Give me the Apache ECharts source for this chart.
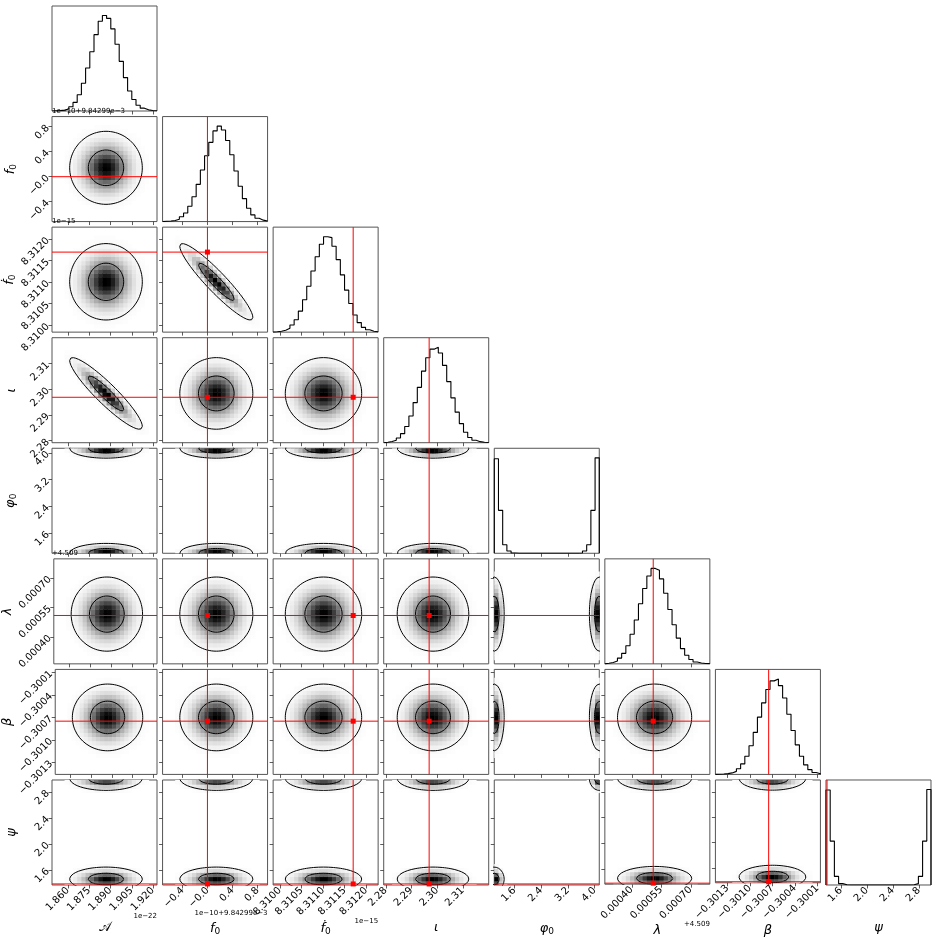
<!DOCTYPE html>
<html><head><meta charset="utf-8">
<script src="https://cdn.jsdelivr.net/npm/echarts@6/dist/echarts.min.js"></script>
<style>html,body{margin:0;padding:0;background:#fff}#c{width:937px;height:938px}</style>
</head><body><div id="c"></div>
<script>
// ================= DATA =================
const paramKeys   = ['A', 'f0', 'fdot0', 'iota', 'phi0', 'lambda', 'beta', 'psi'];
const paramLabels = ['{m|𝒜}', '{i|f}{s|0}', '{i|ḟ}{s|0}', '{i|ι}', '{i|φ}{s|0}', '{i|λ}', '{i|β}', '{i|ψ}'];
// axis ranges (in the offset/scaled units that the tick labels show)
const rangeMin = [1.8487, -0.72, 8.30984, 2.2792, 1.00, 0.000263, -0.30146, 1.369];
const rangeMax = [1.9228,  0.96, 8.31228, 2.3201, 4.14, 0.000797, -0.30006, 2.985];
const tickValues = [
  [1.860, 1.875, 1.890, 1.905, 1.920],
  [-0.4, 0.0, 0.4, 0.8],
  [8.3100, 8.3105, 8.3110, 8.3115, 8.3120],
  [2.28, 2.29, 2.30, 2.31],
  [1.6, 2.4, 3.2, 4.0],
  [0.00040, 0.00055, 0.00070],
  [-0.3013, -0.3010, -0.3007, -0.3004, -0.3001],
  [1.6, 2.0, 2.4, 2.8]
];
const tickText = [
  ['1.860', '1.875', '1.890', '1.905', '1.920'],
  ['\u22120.4', '\u22120.0', '0.4', '0.8'],
  ['8.3100', '8.3105', '8.3110', '8.3115', '8.3120'],
  ['2.28', '2.29', '2.30', '2.31'],
  ['1.6', '2.4', '3.2', '4.0'],
  ['0.00040', '0.00055', '0.00070'],
  ['\u22120.3013', '\u22120.3010', '\u22120.3007', '\u22120.3004', '\u22120.3001'],
  ['1.6', '2.0', '2.4', '2.8']
];
const offsetText = ['1e\u221222', '1e\u221210+9.84299e\u22123', '1e\u221215', '', '', '+4.509', '', ''];
const truthValues = [null, -0.002, 8.31170, 2.2969, null, 0.000509, -0.30075, 1.385];

// 1-D marginal histograms (25 bins across each axis range, relative counts)
const histA      = [0.2, 0.4, 0.9, 2, 4.5, 9, 17, 29, 45, 62, 80, 94, 100, 97, 86, 70, 52, 35, 21, 12, 6, 3, 1.2, 0.5, 0.2];
const histF0     = [0.3, 0.6, 1.2, 2.5, 5, 9, 16, 26, 39, 54, 69, 83, 95, 100, 96, 85, 70, 53, 37, 24, 14, 7, 3.5, 1.5, 0.6];
const histFdot0  = [0.4, 1, 2, 4, 7.5, 13, 22, 34, 48, 64, 79, 92, 100, 99, 90, 76, 60, 44, 30, 18, 10, 5, 2.5, 1, 0.4];
const histIota   = [0.5, 1.2, 2.6, 5, 9.5, 17, 28, 42, 58, 75, 89, 98, 100, 94, 81, 64, 47, 32, 20, 11, 5.5, 2.5, 1.1, 0.5, 0.2];
const histPhi0   = [99, 45, 9, 2.4, 0.3, 0, 0, 0, 0, 0, 0, 0, 0, 0, 0, 0, 0, 0, 0, 0, 0.3, 2.4, 9, 45, 100];
const histLambda = [0.6, 1.4, 3, 6, 11, 19, 31, 46, 63, 79, 92, 100, 98, 89, 74, 57, 41, 27, 16, 9, 4.5, 2, 0.9, 0.4, 0.2];
const histBeta   = [0.2, 0.4, 0.8, 1.6, 3.2, 6, 11, 19, 30, 44, 60, 75, 89, 98, 100, 93, 80, 63, 46, 31, 19, 10, 5, 2, 0.8];
const histPsi    = [99.5, 46, 9, 1.4, 0.2, 0, 0, 0, 0, 0, 0, 0, 0, 0, 0, 0, 0, 0, 0, 0, 0.2, 1.4, 9, 46, 100];
const histograms = [histA, histF0, histFdot0, histIota, histPhi0, histLambda, histBeta, histPsi];

// 2-D posterior shape: location of the two phase/polarisation modes, spread, correlations
const modeLow  = [1.8868, 0.14, 8.31101, 2.2984, 1.00, 0.000516, -0.30070, 1.46];
const modeHigh = [1.8868, 0.14, 8.31101, 2.2984, 4.14, 0.000516, -0.30070, 3.01];
const contourSpread = [0.0125, 0.285, 0.000433, 0.0068, 0.144, 0.000092, 0.000217, 0.09];
const densitySpread = [0.0095, 0.215, 0.000330, 0.0052, 0.11, 0.000070, 0.000165, 0.07];
const correlations = [['A', 'iota', -0.92], ['f0', 'fdot0', -0.93]];

// ================= LAYOUT / STYLE =================
const N = paramKeys.length;
const LEFT0 = 52, TOP0 = 6, STEP = 110.57, SIZE = 105;
const NB = 25; // histogram bins
const FRAME = '#555';
const RED = '#ff0000';
const xOffsetDrop = [32, 29, 37, 0, 0, 40, 0, 0];

function rho(a, b) {
  for (const c of correlations) {
    if ((c[0] === paramKeys[a] && c[1] === paramKeys[b]) || (c[0] === paramKeys[b] && c[1] === paramKeys[a])) return c[2];
  }
  return 0;
}
function labelFor(k) {
  return function (v) {
    const tv = tickValues[k];
    for (let i = 0; i < tv.length; i++) if (Math.abs(tv[i] - v) < 1e-9 * Math.max(1, Math.abs(v))) return tickText[k][i];
    return '';
  };
}
const richLabel = {
  m: { fontFamily: 'DejaVu Sans', fontSize: 13, fontStyle: 'normal' },
  i: { fontFamily: 'DejaVu Sans', fontSize: 13, fontStyle: 'italic' },
  s: { fontFamily: 'DejaVu Sans', fontSize: 9, verticalAlign: 'bottom', padding: [6, 0, 0, 0] }
};
// truth lines + marker drawn through the axes of grid g (own canvas layer)
function truthSeries(g, tx, ty, xmin, xmax, ymin, ymax) {
  const items = [];
  if (tx !== null) items.push([tx, ymin, tx, ymax, 0]);
  if (ty !== null) items.push([xmin, ty, xmax, ty, 0]);
  if (tx !== null && ty !== null) items.push([tx, ty, tx, ty, 1]);
  return {
    type: 'custom', xAxisIndex: g, yAxisIndex: g, data: items, animation: false, silent: true, zlevel: 1, z: 6, clip: false,
    renderItem: function (params, api) {
      const a = api.coord([api.value(0), api.value(1)]);
      const b = api.coord([api.value(2), api.value(3)]);
      if (api.value(4) === 1) {
        return { type: 'rect', shape: { x: a[0] - 2.5, y: a[1] - 2.5, width: 5, height: 5 }, style: { fill: RED, stroke: RED, lineWidth: 0 } };
      }
      return { type: 'line', shape: { x1: a[0], y1: a[1], x2: b[0], y2: b[1] }, style: { stroke: RED, lineWidth: 1, fill: RED } };
    }
  };
}

const grids = [], xAxes = [], yAxes = [], series = [], truthList = [], graphics = [];
let g = 0;
for (let i = 0; i < N; i++) {
  for (let j = 0; j <= i; j++) {
    const left = LEFT0 + j * STEP, top = TOP0 + i * STEP;
    grids.push({ left: left, top: top, width: SIZE, height: SIZE, show: true, borderColor: FRAME, borderWidth: 1, backgroundColor: 'transparent' });
    const bottomRow = (i === N - 1);
    xAxes.push({
      gridIndex: g, type: 'value', min: rangeMin[j], max: rangeMax[j],
      axisLine: { show: false, onZero: false }, splitLine: { show: false }, axisPointer: { show: false },
      axisTick: { show: true, inside: false, length: 3.5, lineStyle: { color: '#333', width: 0.8 }, customValues: tickValues[j] },
      axisLabel: { show: bottomRow, customValues: tickValues[j], rotate: 45, formatter: labelFor(j), fontFamily: 'DejaVu Sans', fontSize: 10, color: '#000', margin: 4 },
      name: bottomRow ? paramLabels[j] : '', nameLocation: 'middle', nameGap: 36,
      nameTextStyle: { color: '#000', rich: richLabel }
    });
    if (i === j) {
      const h = histograms[j];
      let hmax = 0; h.forEach(v => { if (v > hmax) hmax = v; });
      yAxes.push({ gridIndex: g, type: 'value', min: 0, max: hmax * 1.1, show: false, splitLine: { show: false }, axisLine: { onZero: false } });
      const w = (rangeMax[j] - rangeMin[j]) / NB;
      const pts = [[rangeMin[j], 0]];
      for (let k = 0; k < NB; k++) pts.push([rangeMin[j] + k * w, h[k]]);
      pts.push([rangeMax[j], h[NB - 1]]);
      pts.push([rangeMax[j], 0]);
      series.push({
        type: 'line', xAxisIndex: g, yAxisIndex: g, data: pts, step: 'end', symbol: 'none', animation: false,
        lineStyle: { color: '#000', width: 1.1 }, z: 3, clip: true
      });
      if (truthValues[j] !== null) truthList.push(truthSeries(g, truthValues[j], null, 0, 0, 0, hmax * 1.1));
    } else {
      const leftCol = (j === 0);
      yAxes.push({
        gridIndex: g, type: 'value', min: rangeMin[i], max: rangeMax[i],
        axisLine: { show: false, onZero: false }, splitLine: { show: false }, axisPointer: { show: false },
        axisTick: { show: true, inside: false, length: 3.5, lineStyle: { color: '#333', width: 0.8 }, customValues: tickValues[i] },
        axisLabel: { show: leftCol, customValues: tickValues[i], rotate: 45, formatter: labelFor(i), fontFamily: 'DejaVu Sans', fontSize: 10, color: '#000', margin: 4 },
        name: leftCol ? paramLabels[i] : '', nameLocation: 'middle', nameGap: 34, nameRotate: 90,
        nameTextStyle: { color: '#000', rich: richLabel }
      });
      // density cells
      const r = rho(j, i);
      const comps = [[modeLow[j], modeLow[i]], [modeHigh[j], modeHigh[i]]];
      const dx = (rangeMax[j] - rangeMin[j]) / NB, dy = (rangeMax[i] - rangeMin[i]) / NB;
      const cells = []; let vmax = 0;
      for (let a = 0; a < NB; a++) for (let b = 0; b < NB; b++) {
        const x = rangeMin[j] + (a + 0.5) * dx, y = rangeMin[i] + (b + 0.5) * dy;
        let v = 0;
        for (const c of comps) {
          const u = (x - c[0]) / densitySpread[j], t = (y - c[1]) / densitySpread[i];
          v += Math.exp(-(u * u - 2 * r * u * t + t * t) / (2 * (1 - r * r)));
        }
        cells.push([x, y, v]); if (v > vmax) vmax = v;
      }
      const cellData = cells.filter(c => c[2] / vmax > 0.006).map(c => [c[0], c[1], c[2] / vmax]);
      series.push({
        type: 'custom', xAxisIndex: g, yAxisIndex: g, data: cellData, animation: false, silent: true, z: 1, clip: true,
        renderItem: (function (dx, dy) {
          return function (params, api) {
            const p0 = api.coord([api.value(0) - dx / 2, api.value(1) + dy / 2]);
            const p1 = api.coord([api.value(0) + dx / 2, api.value(1) - dy / 2]);
            const gv = Math.round(255 * (1 - api.value(2)));
            return { type: 'rect', shape: { x: p0[0], y: p0[1], width: p1[0] - p0[0] + 0.5, height: p1[1] - p0[1] + 0.5 },
              style: { fill: 'rgb(' + gv + ',' + gv + ',' + gv + ')', stroke: null } };
          };
        })(dx, dy)
      });
      // contours (1 and 2 sigma)
      const sx = contourSpread[j], sy = contourSpread[i];
      const seen = {};
      for (const c of comps) {
        const key = c[0] + '_' + c[1]; if (seen[key]) continue; seen[key] = 1;
        for (const rr of [1.0, 2.05]) {
          const pts = [];
          for (let k = 0; k <= 96; k++) {
            const th = 2 * Math.PI * k / 96;
            pts.push([c[0] + rr * sx * Math.cos(th), c[1] + rr * sy * (r * Math.cos(th) + Math.sqrt(1 - r * r) * Math.sin(th))]);
          }
          series.push({ type: 'line', xAxisIndex: g, yAxisIndex: g, data: pts, symbol: 'none', smooth: false, clip: true,
            animation: false, silent: true, z: 3, lineStyle: { color: '#000', width: 1 } });
        }
      }
      // truth lines and marker
      if (truthValues[j] !== null || truthValues[i] !== null) {
        truthList.push(truthSeries(g, truthValues[j], truthValues[i], rangeMin[j], rangeMax[j], rangeMin[i], rangeMax[i]));
      }
    }
    g++;
  }
}
truthList.forEach(s => series.push(s));
// offset texts (matplotlib-style scientific offsets)
for (let i = 0; i < N; i++) {
  if (offsetText[i] && i > 0) {
    graphics.push({ type: 'text', left: LEFT0, top: TOP0 + i * STEP - 9, z: 100, zlevel: 1,
      style: { text: offsetText[i], fontFamily: 'DejaVu Sans', fontSize: 7, fill: '#000' } });
  }
  if (offsetText[i]) {
    graphics.push({ type: 'text', right: 937 - (LEFT0 + i * STEP + SIZE), top: TOP0 + 7 * STEP + SIZE + xOffsetDrop[i] - 4, z: 100, zlevel: 1,
      style: { text: offsetText[i], fontFamily: 'DejaVu Sans', fontSize: 7, fill: '#000' } });
  }
}

const chart = echarts.init(document.getElementById('c'), null, { renderer: 'canvas' });
chart.setOption({ backgroundColor: '#fff', animation: false, grid: grids, xAxis: xAxes, yAxis: yAxes, series: series, graphic: graphics });
</script></body></html>
